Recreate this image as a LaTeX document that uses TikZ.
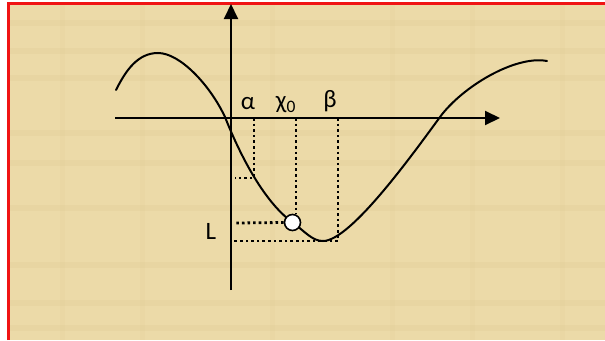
\documentclass[tikz,border=0pt]{standalone}
\usepackage{fontspec}
\setmainfont{Carlito}
\usetikzlibrary{arrows.meta}
\definecolor{papyrus}{RGB}{236,218,168}
\definecolor{papyrusdark}{RGB}{226,204,150}
\definecolor{frame}{RGB}{240,20,20}
\tikzset{
  axisline/.style={line width=2pt, -{Triangle[length=15pt,width=14pt]}},
  curveline/.style={line width=2pt, line cap=round},
  dotline/.style={line width=2.8pt, dash pattern=on 2.6pt off 3pt},
  lbl/.style={font=\fontsize{25}{26}\selectfont, inner sep=0pt},
  lblL/.style={font=\fontsize{25}{26}\selectfont, inner sep=0pt},
  pointmark/.style={circle, draw, fill=white, line width=1.6pt, minimum size=16pt, inner sep=0pt}
}
\begin{document}
\begin{tikzpicture}[x=1pt,y=-1pt]
\useasboundingbox (0,0) rectangle (605,340);
% background
\fill[papyrus] (7,2) rectangle (605,340);
\foreach \yy in {20,48,75,130,160,205,262,300,325}
  \fill[papyrusdark,opacity=0.3] (7,\yy) rectangle (605,\yy+6);
\foreach \xx in {60,140,270,390,470,560}
  \fill[papyrusdark,opacity=0.2] (\xx,2) rectangle (\xx+5,340);
\draw[frame, line width=2.5pt] (8.25,340) -- (8.25,3.25) -- (605,3.25);
% coordinates
\coordinate (yb) at (231,290);
\coordinate (yt) at (231,4);
\coordinate (xl) at (115,118);
\coordinate (xr) at (500,118);
% axes
\draw[axisline] (yb) -- (yt);
\draw[axisline] (xl) -- (xr);
% curve
\draw[curveline] (116,90) .. controls (126,70) and (138,53) .. (158,53)
  .. controls (180,53) and (210,85) .. (225,117)
  .. controls (238,150) and (262,200) .. (292,222)
  .. controls (305,231.5) and (312,241) .. (323,241)
  .. controls (350,241) and (410,158) .. (440,117)
  .. controls (462,87) and (515,55) .. (547,61);
% reference points
\coordinate (a0) at (254,118);
\coordinate (a1) at (254,178);
\coordinate (a2) at (235,178);
\coordinate (c0) at (296,118);
\coordinate (b0) at (338,118);
\coordinate (b1) at (338,241);
\coordinate (b2) at (232,241);
\coordinate (l2) at (235,223);
\node[pointmark] (pt) at (292.5,222.5) {};
\draw[dotline] (a0) -- (a1) -- (a2);
\draw[dotline] (c0) -- (pt.north -| c0);
\draw[dotline] (pt.west) -- (l2);
\draw[dotline] (b0) -- (b1) -- (b2);
% labels
\node[lbl] (alpha) at (248,104) {α};
\node[lbl] (chi) at (286,105) {χ\textsubscript{0}};
\node[lbl] (beta) at (330,101) {β};
\node[lblL] (L) at (211,231) {L};
\end{tikzpicture}
\end{document}
